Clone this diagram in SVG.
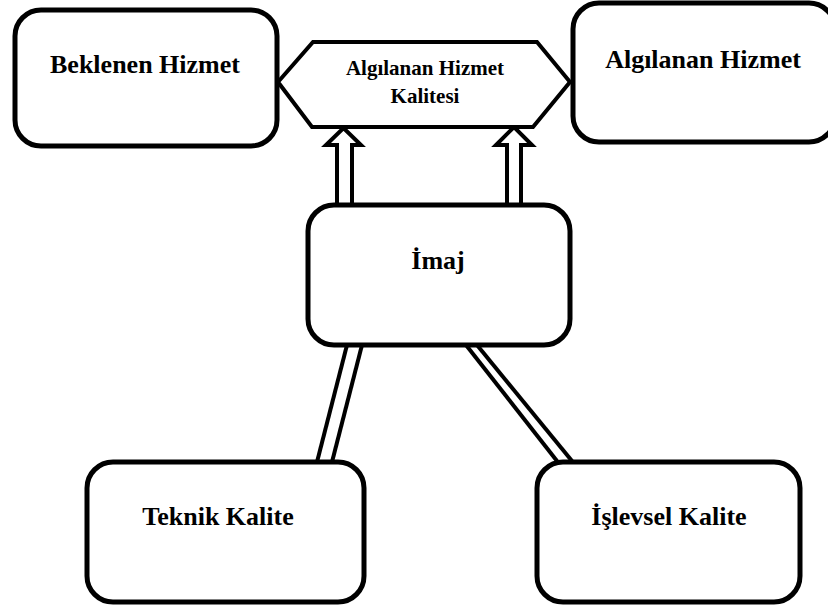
<svg xmlns="http://www.w3.org/2000/svg" width="828" height="610" viewBox="0 0 828 610">
<style>
.box{fill:#fff;stroke:#000;stroke-width:5}
.hex{fill:#fff;stroke:#000;stroke-width:4;stroke-linejoin:miter}
.arr{fill:#fff;stroke:#000;stroke-width:4;stroke-linejoin:miter}
.dl{stroke:#000;stroke-width:4}
text{font-family:'Liberation Serif', 'DejaVu Serif', serif;font-weight:bold;font-size:26px;fill:#000;text-anchor:middle}
.ts{font-size:21px}
</style>
<rect width="828" height="610" fill="#fff"/>
<g id="connectors">
<path class="arr" d="M337,206 V145 H326 L343.5,128 L361,145 H352 V206"/>
<path class="arr" d="M507,206 V145 H496 L514,127 L532,145 H521 V206"/>
<line class="dl" x1="347" y1="345" x2="317" y2="462"/>
<line class="dl" x1="362" y1="345" x2="332" y2="462"/>
<line class="dl" x1="466" y1="345" x2="557" y2="461"/>
<line class="dl" x1="477" y1="345" x2="572" y2="461"/>
</g>
<g id="algilanan-hizmet-kalitesi">
<polygon class="hex" points="313,42 537,42 570,82 533,127 312,127 278,82"/>
<text class="ts" x="425" y="75" font-family="Liberation Serif, serif">Algılanan Hizmet</text>
<text class="ts" x="425" y="103" font-family="Liberation Serif, serif">Kalitesi</text>
</g>
<g id="beklenen-hizmet">
<rect class="box" x="15" y="10" width="262" height="136" rx="26"/>
<text x="145" y="73" font-family="Liberation Serif, serif">Beklenen Hizmet</text>
</g>
<g id="algilanan-hizmet">
<rect class="box" x="573" y="3" width="262" height="139" rx="26"/>
<text x="703" y="68" font-family="Liberation Serif, serif">Algılanan Hizmet</text>
</g>
<g id="imaj">
<rect class="box" x="308" y="205" width="262" height="140" rx="26"/>
<text x="438" y="269" font-family="Liberation Serif, serif">İmaj</text>
</g>
<g id="teknik-kalite">
<rect class="box" x="87" y="462" width="277" height="140" rx="26"/>
<text x="218" y="525" font-family="Liberation Serif, serif">Teknik Kalite</text>
</g>
<g id="islevsel-kalite">
<rect class="box" x="537" y="462" width="263" height="140" rx="26"/>
<text x="669" y="525" font-family="Liberation Serif, serif">İşlevsel Kalite</text>
</g>
</svg>
